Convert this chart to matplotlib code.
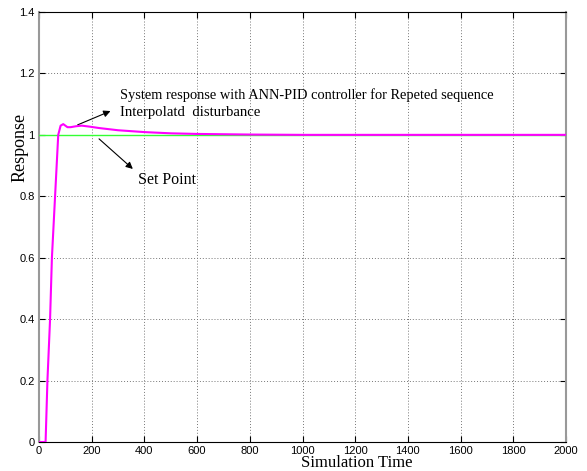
import matplotlib
matplotlib.use("Agg")
import matplotlib.pyplot as plt
from matplotlib.ticker import FormatStrFormatter

# Data
time = [0, 25, 32, 42, 49, 61, 73, 82, 92, 100, 108, 120, 140, 162, 190, 230,
        300, 400, 500, 600, 800, 1000, 1500, 2000]
response = [0, 0, 0.2, 0.4, 0.6, 0.8, 1.0, 1.03, 1.035, 1.03, 1.025, 1.025,
            1.028, 1.03, 1.027, 1.022, 1.015, 1.009, 1.005, 1.003, 1.001,
            1.0, 1.0, 1.0]
setpoint_time = [0, 2000]
setpoint = [1.0, 1.0]
x_ticks = [0, 200, 400, 600, 800, 1000, 1200, 1400, 1600, 1800, 2000]
y_ticks = [0, 0.2, 0.4, 0.6, 0.8, 1.0, 1.2, 1.4]

fig = plt.figure(figsize=(5.87, 4.71), dpi=100)
ax = fig.add_axes([39/587, 29/471, 527/587, 430/471])

ax.plot(setpoint_time, setpoint, color="#33ff33", lw=1.0, zorder=3)
ax.plot(time, response, color="#ff00ff", lw=1.5, zorder=4)

ax.set_xlim(0, 2000)
ax.set_ylim(0, 1.4)
ax.set_xticks(x_ticks)
ax.set_yticks(y_ticks)
ax.yaxis.set_major_formatter(FormatStrFormatter('%g'))
ax.grid(True, color="#777777", linestyle=(0, (1, 2)), lw=0.7)
ax.tick_params(direction="in", top=True, right=True, length=4, width=0.8,
               labelsize=8, pad=3)
for lab in ax.get_xticklabels() + ax.get_yticklabels():
    lab.set_family("Liberation Sans")

ax.spines["left"].set_color("#999999")
ax.spines["right"].set_color("#999999")
ax.spines["left"].set_linewidth(1.5)
ax.spines["right"].set_linewidth(1.5)
ax.spines["top"].set_color("black")
ax.spines["bottom"].set_color("black")

serif = "Liberation Serif"
fig.text(357/587, 1 - 463/471, "Simulation Time", family=serif, fontsize=12,
         ha="center", va="center")
fig.text(20/587, 1 - 147/471, "Response", family=serif, fontsize=13,
         rotation=90, ha="center", va="center")

ax.text(308, 1.130, "System response with ANN-PID controller for Repeted sequence",
        family=serif, fontsize=10.4, ha="left", va="center")
ax.text(308, 1.072, "Interpolatd  disturbance", family=serif, fontsize=10.6,
        ha="left", va="center")
ax.text(375, 0.853, "Set Point", family=serif, fontsize=11.5, ha="left", va="center")

ax.annotate("", xy=(281, 1.081), xytext=(137, 1.029),
            arrowprops=dict(arrowstyle="-|>", color="black", lw=0.8,
                            mutation_scale=10))
ax.annotate("", xy=(364, 0.883), xytext=(220, 0.993),
            arrowprops=dict(arrowstyle="-|>", color="black", lw=0.8,
                            mutation_scale=10))

fig.savefig("out.png", dpi=100)
